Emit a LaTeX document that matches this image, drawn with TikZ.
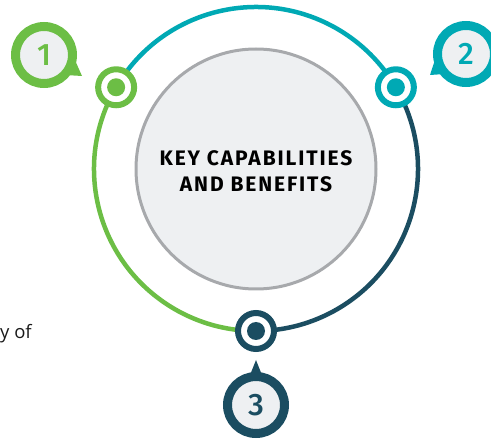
\documentclass[tikz,border=0pt]{standalone}
\usepackage{fontspec}
\setsansfont{Fira Sans}
\newfontfamily\numfont{Fira Sans Medium}
\newfontfamily\titlefont{Fira Sans}[LetterSpace=9]
\newfontfamily\notefont{Open Sans}
\usetikzlibrary{positioning}

\definecolor{kgreen}{HTML}{6CBE45}
\definecolor{kteal}{HTML}{00A9B4}
\definecolor{knavy}{HTML}{1B4D61}
\definecolor{kpale}{HTML}{EEF0F2}
\definecolor{kgray}{HTML}{A7A9AC}

\begin{document}
\begin{tikzpicture}
[x=1pt, y=1pt,
 arcline/.style={line width=4.5pt},
 hub/.style={circle, draw=kgray, line width=3pt, fill=kpale, minimum size=240pt, inner sep=0pt},
 dotring/.style={circle, draw=#1, line width=6pt, fill=white, minimum size=36pt, inner sep=0pt},
 dot/.style={circle, fill=#1, minimum size=18pt, inner sep=0pt},
 badge/.style={circle, draw=#1, line width=9pt, fill=kpale, minimum size=57pt, inner sep=0pt,
   text=#1, font=\numfont\fontsize{31}{31}\selectfont}]
\useasboundingbox (0,0) rectangle (491,440);
\clip (0,0) rectangle (491,440);
% centre of the ring and the three points on it
\coordinate (o) at (256,271);
\coordinate (p1) at ([shift={(149.7:162)}]o);
\coordinate (p2) at ([shift={(30.3:162)}]o);
\coordinate (p3) at ([shift={(270:162)}]o);
\draw[arcline, kteal] (p1) arc[start angle=149.7, end angle=30.3, radius=162];
\draw[arcline, knavy] (p2) arc[start angle=30.3, end angle=-90, radius=162];
\draw[arcline, kgreen] (p1) arc[start angle=149.7, end angle=270, radius=162];
\node[hub] (hub) at (o) {};
\node[font=\titlefont\bfseries\fontsize{21}{26}\selectfont, align=center, inner sep=0pt] (title)
  at ([yshift=-2]hub.center) {KEY CAPABILITIES\\AND BENEFITS};
% markers on the ring
\node[dotring=kgreen] (m1) at (p1) {};
\node[dot=kgreen] at (m1) {};
\node[dotring=kteal] (m2) at (p2) {};
\node[dot=kteal] at (m2) {};
\node[dotring=knavy] (m3) at (p3) {};
\node[dot=knavy] at (m3) {};
% numbered badges
\coordinate (c1) at (44,385);
\coordinate (c2) at (466,386);
\coordinate (c3) at (256,35);
\coordinate (t1) at (82,364);
\coordinate (t2) at (430,365);
\coordinate (t3) at (256,80);
\fill[kgreen] (t1) -- ([shift={(-5:30)}]c1) -- ([shift={(-42:30)}]c1) -- cycle;
\fill[kteal] (t2) -- ([shift={(185:30)}]c2) -- ([shift={(222:30)}]c2) -- cycle;
\fill[knavy] (t3) -- ([shift={(78:30)}]c3) -- ([shift={(102:30)}]c3) -- cycle;
\node[badge=kgreen] (b1) at (c1) {1};
\node[badge=kteal] (b2) at (c2) {2};
\node[badge=knavy] (b3) at (c3) {3};
\node[anchor=base west, inner sep=0pt, text=black!90, font=\notefont\fontsize{18.5}{18.5}\selectfont]
  (cut) at (0,101) {y of};
\end{tikzpicture}
\end{document}
